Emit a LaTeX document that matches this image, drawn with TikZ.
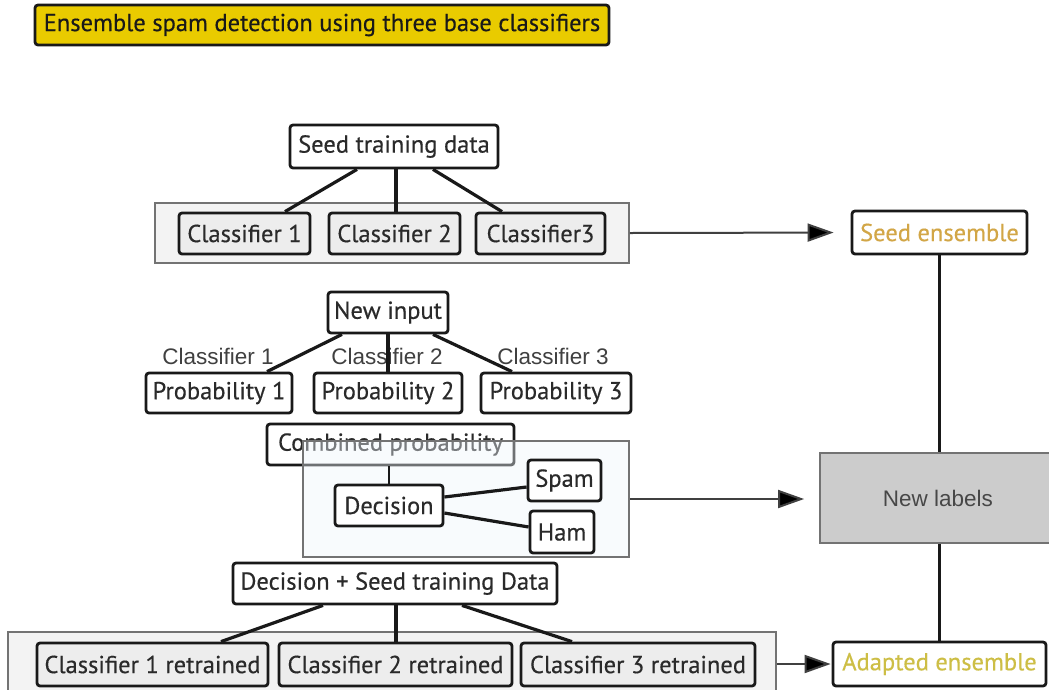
\documentclass[tikz,border=0pt]{standalone}
\usepackage{fontspec}
\setsansfont[FakeBold=0.4]{PT Sans}
\newfontfamily\arialfont{Liberation Sans}
\usetikzlibrary{arrows.meta}

\definecolor{txt}{HTML}{2A2A2A}
\definecolor{titlefill}{HTML}{E9CB00}
\definecolor{boxgray}{HTML}{EDEDED}
\definecolor{panelgray}{HTML}{F3F3F3}
\definecolor{panelblue}{HTML}{EEF5FC}
\definecolor{labelgray}{HTML}{CCCCCC}
\definecolor{seedgold}{HTML}{D2A646}
\definecolor{adaptgold}{HTML}{CDBE45}

\tikzset{
  box/.style={draw=black!90, line width=2.8pt, rounded corners=3pt, fill=white,
    text=txt, font=\sffamily\fontsize{24.5}{26}\selectfont, inner sep=0pt},
  gbox/.style={box, fill=boxgray},
  panel/.style={draw=black!55, line width=1.5pt, inner sep=0pt},
  link/.style={draw=black!90, line width=3.2pt},
  flow/.style={draw=black!75, line width=2pt, -{Triangle[length=26pt,width=18pt,fill=black]}},
  edgetext/.style={text=black!75, font=\arialfont\fontsize{22.5}{24}\selectfont, inner sep=0pt}
}

\begin{document}
\begin{tikzpicture}[x=1pt,y=-1pt]
\useasboundingbox (0,0) rectangle (1049,689);
\fill[white] (0,0) rectangle (1049,689);

% title
\node[box, fill=titlefill, text=black!90, minimum width=574, minimum height=40] (title) at (322,25) {Ensemble spam detection using three base classifiers};

% seed training stage
\node[box, minimum width=208, minimum height=43] (seed) at (394,146.5) {Seed training data};
\node[panel, fill=panelgray, minimum width=474, minimum height=60] (p1) at (392,233) {};
\node[gbox, minimum width=131, minimum height=41] (c1) at (244.5,233.5) {Classifier 1};
\node[gbox, minimum width=131, minimum height=41] (c2) at (394.5,233.5) {Classifier 2};
\node[gbox, minimum width=129, minimum height=41] (c3) at (540.5,233.5) {Classifier3};
\draw[link] ([xshift=-37pt]seed.south) -- ([xshift=40.5pt]c1.north);
\draw[link] ([xshift=2pt]seed.south) -- ([xshift=2pt]seed.south |- c2.north);
\draw[link] ([xshift=39pt]seed.south) -- ([xshift=-38.5pt]c3.north);

% ensembles on the right
\node[box, text=seedgold, minimum width=175, minimum height=43] (seedens) at (939.5,232.5) {Seed ensemble};
\node[draw=black!55, line width=1.8pt, fill=labelgray, minimum width=242, minimum height=90, inner sep=0pt] (newlabels) at (941,498) {};
\node[edgetext, text=black!72] (nltext) at (938,498) {New labels};
\node[box, text=adaptgold, minimum width=213, minimum height=44] (adapted) at (939.5,664) {Adapted ensemble};
\draw[link, line width=2.6pt] (seedens.south) -- (seedens.south |- newlabels.north);
\draw[link, line width=2.6pt] (newlabels.south -| adapted.north) -- (adapted.north);

% scoring a new input
\node[edgetext] (l1) at (218,356) {Classifier 1};
\node[edgetext] (l2) at (387,356) {Classifier 2};
\node[edgetext] (l3) at (553,356) {Classifier 3};
\node[box, minimum width=120, minimum height=41] (newinput) at (388,312.5) {New input};
\node[box, minimum width=146, minimum height=40] (prob1) at (219,393) {Probability 1};
\node[box, minimum width=148, minimum height=40] (prob2) at (388,393) {Probability 2};
\node[box, minimum width=150, minimum height=40] (prob3) at (556,393) {Probability 3};
\draw[link] ([xshift=-46pt]newinput.south) -- ([xshift=48pt]prob1.north);
\draw[link] (newinput.south) -- (prob2.north);
\draw[link] ([xshift=45pt]newinput.south) -- ([xshift=-44pt]prob3.north);

% decision
\node[box, minimum width=247, minimum height=41] (combined) at (390.5,444.5) {Combined probability};
\node[panel, fill=panelblue, fill opacity=0.4, minimum width=326, minimum height=116] (p2) at (466,499) {};
\node[box, minimum width=108, minimum height=41] (decision) at (389,505.5) {Decision};
\node[box, minimum width=73, minimum height=41] (spam) at (564.5,480.5) {Spam};
\node[box, minimum width=64, minimum height=42] (ham) at (562,532) {Ham};
\draw[link, line width=2.6pt] (combined.south -| decision.north) -- (decision.north);
\draw[link] ([yshift=8.5pt]decision.east) -- ([yshift=-6.5pt]spam.west);
\draw[link] ([yshift=-7.5pt]decision.east) -- ([yshift=5pt]ham.west);

% retraining
\node[box, minimum width=324, minimum height=41] (dseed) at (395,583.5) {Decision + Seed training Data};
\node[panel, fill=panelgray, minimum width=768, minimum height=68] (p3) at (392,666) {};
\node[gbox, minimum width=231, minimum height=43] (r1) at (152.5,664.5) {Classifier 1 retrained};
\node[gbox, minimum width=233, minimum height=43] (r2) at (395.5,664.5) {Classifier 2 retrained};
\node[gbox, minimum width=234, minimum height=43] (r3) at (638,664.5) {Classifier 3 retrained};
\draw[link] ([xshift=-72pt]dseed.south) -- ([xshift=68.5pt]r1.north);
\draw[link] ([xshift=1pt]dseed.south) -- ([xshift=1pt]dseed.south |- r2.north);
\draw[link] ([xshift=67pt]dseed.south) -- ([xshift=-66pt]r3.north);

% flows into the ensembles
\draw[flow, shorten >=17pt] (p1.east) -- (seedens.west);
\draw[flow, shorten >=15pt] (p2.east) -- (p2.east -| newlabels.west);
\draw[flow, shorten >=1pt] (p3.east |- adapted.west) -- (adapted.west);
\end{tikzpicture}
\end{document}
